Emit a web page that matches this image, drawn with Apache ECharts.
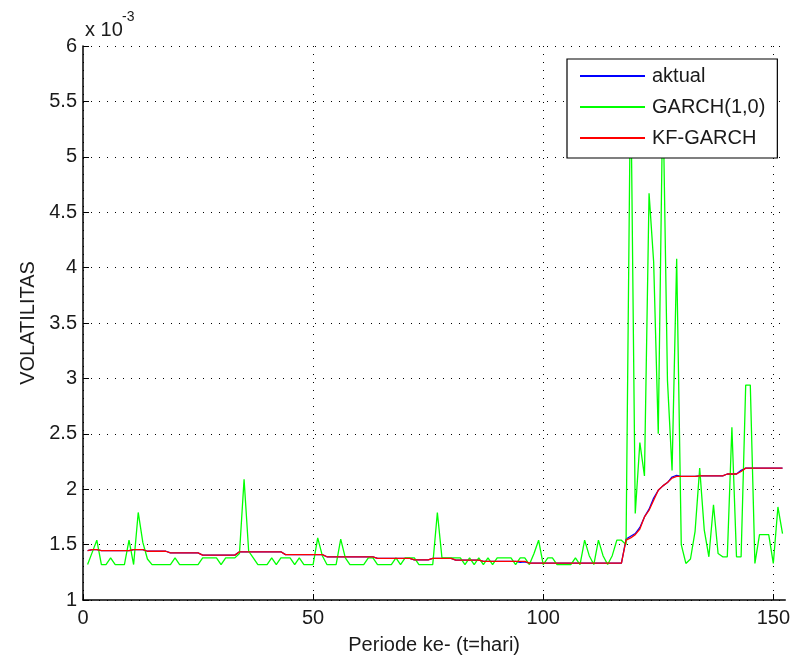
<!DOCTYPE html>
<html>
<head>
<meta charset="utf-8">
<script src="https://cdn.jsdelivr.net/npm/echarts@6/dist/echarts.min.js"></script>
<style>
html,body{margin:0;padding:0;background:#fff;}
#chart{width:793px;height:661px;}
</style>
</head>
<body>
<div id="chart"></div>
<script>
// Values in units of 1e-3, for t = 1..152
const aktual = [
1.445,1.455,1.455,1.445,1.445,1.445,1.445,1.445,1.445,1.445,
1.455,1.455,1.455,1.44,1.44,1.44,1.44,1.44,1.425,1.425,
1.425,1.425,1.425,1.425,1.425,1.405,1.405,1.405,1.405,1.405,
1.405,1.405,1.405,1.435,1.435,1.435,1.435,1.435,1.435,1.435,
1.435,1.435,1.435,1.41,1.41,1.41,1.41,1.41,1.41,1.41,
1.41,1.41,1.39,1.39,1.39,1.39,1.39,1.39,1.39,1.39,
1.39,1.39,1.39,1.376,1.376,1.376,1.376,1.376,1.376,1.376,
1.376,1.362,1.362,1.362,1.362,1.376,1.376,1.376,1.376,1.376,
1.36,1.36,1.36,1.36,1.36,1.36,1.348,1.348,1.348,1.348,
1.348,1.348,1.348,1.348,1.34,1.345,1.333,1.333,1.333,1.333,
1.333,1.333,1.333,1.333,1.333,1.333,1.333,1.333,1.333,1.333,
1.333,1.333,1.333,1.333,1.333,1.333,1.333,1.55,1.575,1.60,
1.655,1.75,1.82,1.92,1.99,2.03,2.06,2.11,2.125,2.115,
2.115,2.115,2.115,2.12,2.12,2.12,2.12,2.12,2.12,2.137,
2.137,2.137,2.17,2.19,2.19,2.19,2.19,2.19,2.19,2.19,
2.19,2.19
];
const garch = [
1.32,1.43,1.54,1.32,1.32,1.38,1.32,1.32,1.32,1.54,
1.32,1.79,1.52,1.37,1.32,1.32,1.32,1.32,1.32,1.38,
1.32,1.32,1.32,1.32,1.32,1.38,1.38,1.38,1.38,1.32,
1.38,1.38,1.38,1.42,2.09,1.44,1.38,1.32,1.32,1.32,
1.38,1.32,1.38,1.38,1.38,1.32,1.38,1.32,1.32,1.32,
1.56,1.40,1.32,1.32,1.32,1.55,1.38,1.32,1.32,1.32,
1.32,1.38,1.38,1.32,1.32,1.32,1.32,1.38,1.32,1.38,
1.38,1.38,1.32,1.32,1.32,1.32,1.79,1.38,1.38,1.38,
1.38,1.38,1.32,1.38,1.32,1.38,1.32,1.38,1.32,1.38,
1.38,1.38,1.38,1.32,1.38,1.38,1.32,1.42,1.54,1.32,
1.38,1.38,1.32,1.32,1.32,1.32,1.38,1.32,1.54,1.40,
1.32,1.54,1.40,1.32,1.40,1.54,1.54,1.50,5.80,1.78,
2.42,2.12,4.67,4.05,2.50,5.60,2.98,2.17,4.08,1.50,
1.33,1.37,1.62,2.19,1.63,1.39,1.86,1.42,1.39,1.39,
2.56,1.39,1.39,2.94,2.94,1.33,1.59,1.59,1.59,1.33,
1.84,1.60
];
const kfGarch = [
1.445,1.455,1.455,1.445,1.445,1.445,1.445,1.445,1.445,1.445,
1.455,1.455,1.455,1.44,1.44,1.44,1.44,1.44,1.425,1.425,
1.425,1.425,1.425,1.425,1.425,1.405,1.405,1.405,1.405,1.405,
1.405,1.405,1.405,1.435,1.435,1.435,1.435,1.435,1.435,1.435,
1.435,1.435,1.435,1.41,1.41,1.41,1.41,1.41,1.41,1.41,
1.41,1.41,1.39,1.39,1.39,1.39,1.39,1.39,1.39,1.39,
1.39,1.39,1.39,1.376,1.376,1.376,1.376,1.376,1.376,1.376,
1.376,1.362,1.362,1.362,1.362,1.376,1.376,1.376,1.376,1.376,
1.36,1.36,1.36,1.36,1.36,1.36,1.348,1.348,1.348,1.348,
1.348,1.348,1.348,1.348,1.348,1.348,1.333,1.333,1.333,1.333,
1.333,1.333,1.333,1.333,1.333,1.333,1.333,1.333,1.333,1.333,
1.333,1.333,1.333,1.333,1.333,1.333,1.333,1.54,1.56,1.59,
1.64,1.75,1.81,1.90,1.99,2.03,2.06,2.10,2.115,2.115,
2.115,2.115,2.115,2.12,2.12,2.12,2.12,2.12,2.12,2.137,
2.137,2.137,2.16,2.19,2.19,2.19,2.19,2.19,2.19,2.19,
2.19,2.19
];
const seriesNames = ['aktual', 'GARCH(1,0)', 'KF-GARCH'];
const xTicks = [0, 50, 100, 150];
const yMin = 1, yMax = 6, yStep = 0.5;
const xMin = 0, xMax = 152.6;

const FONT = "'Liberation Sans', Arial, sans-serif";
function pairs(arr){ return arr.map((v,i)=>[i+1, v]); }

const chart = echarts.init(document.getElementById('chart'), null, {renderer:'canvas'});
const gridDots = {show:true, lineStyle:{color:'#000', width:1, type:[1,7]}};
chart.setOption({
  animation:false,
  backgroundColor:'#fff',
  grid:{left:83, right:3, top:46, bottom:61, containLabel:false},
  xAxis:{
    type:'value', min:xMin, max:xMax,
    name:'Periode ke- (t=hari)', nameLocation:'middle', nameGap:35,
    nameTextStyle:{fontFamily:FONT, fontSize:20, color:'#1a1a1a'},
    axisLine:{show:true, onZero:false, lineStyle:{color:'#000', width:1.5}},
    axisTick:{show:true, inside:true, length:6, customValues:xTicks, lineStyle:{color:'#000'}},
    axisLabel:{fontFamily:FONT, fontSize:20, color:'#1a1a1a', margin:8, customValues:xTicks},
    splitLine:gridDots
  },
  yAxis:{
    type:'value', min:yMin, max:yMax, interval:yStep,
    name:'VOLATILITAS', nameLocation:'middle', nameGap:43,
    nameTextStyle:{fontFamily:FONT, fontSize:20, color:'#1a1a1a'},
    axisLine:{show:true, onZero:false, lineStyle:{color:'#000', width:1.5}},
    axisTick:{show:true, inside:true, length:6, lineStyle:{color:'#000'}},
    axisLabel:{fontFamily:FONT, fontSize:20, color:'#1a1a1a', margin:6},
    splitLine:gridDots
  },
  legend:{
    orient:'vertical', left:567, top:59,
    backgroundColor:'#fff', borderColor:'#000', borderWidth:1.2, borderRadius:0,
    padding:[5,12,8,13], itemGap:7, itemWidth:65, itemHeight:2, icon:'rect',
    textStyle:{fontFamily:FONT, fontSize:20, color:'#1a1a1a', lineHeight:24, padding:[0,0,0,2]},
    data:seriesNames
  },
  graphic:[
    {type:'text', left:85, top:20, style:{text:'x 10', font:"20px 'Liberation Sans', Arial, sans-serif", fill:'#1a1a1a'}},
    {type:'text', left:122, top:10, style:{text:'-3', font:"14px 'Liberation Sans', Arial, sans-serif", fill:'#1a1a1a'}}
  ],
  series:[
    {name:seriesNames[0], type:'line', data:pairs(aktual), showSymbol:false, symbol:'none', lineStyle:{color:'#0000ff', width:1.3}, itemStyle:{color:'#0000ff'}},
    {name:seriesNames[1], type:'line', data:pairs(garch), showSymbol:false, symbol:'none', lineStyle:{color:'#00ff00', width:1.3}, itemStyle:{color:'#00ff00'}},
    {name:seriesNames[2], type:'line', data:pairs(kfGarch), showSymbol:false, symbol:'none', lineStyle:{color:'#ff0000', width:1.3}, itemStyle:{color:'#ff0000'}}
  ]
});
</script>
</body>
</html>
